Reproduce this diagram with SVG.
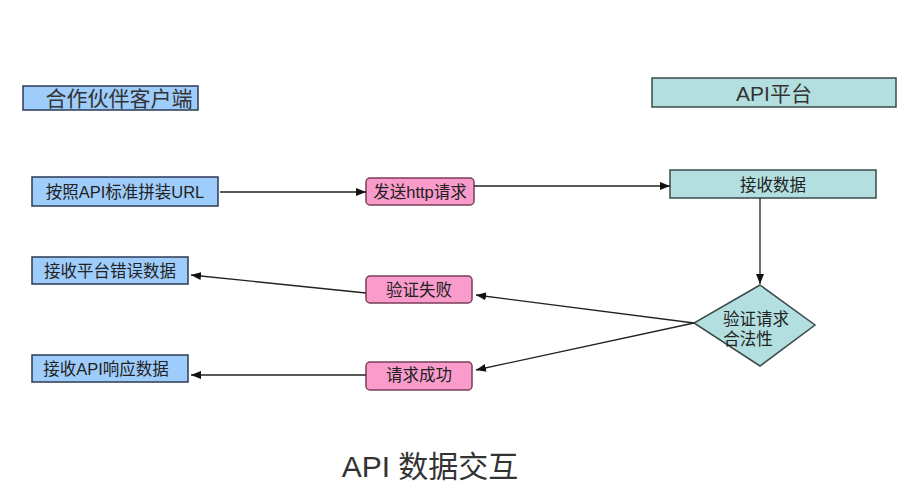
<svg xmlns="http://www.w3.org/2000/svg" width="915" height="501" viewBox="0 0 915 501">
<defs>
<marker id="ah" markerWidth="10" markerHeight="8" refX="10" refY="4" orient="auto" markerUnits="userSpaceOnUse">
<path d="M0,0 L10,4 L0,8 Z" fill="#111"/>
</marker>
<style>
text{font-family:"Liberation Sans","Noto Sans CJK SC",sans-serif;fill:#222;text-anchor:middle;dominant-baseline:central}
.blue{fill:#9fcdfb;stroke:#2c3a55;stroke-width:1.5}
.teal{fill:#b3dfe0;stroke:#3b4a4a;stroke-width:1.5}
.pink{fill:#f99ccc;stroke:#7a3d5a;stroke-width:1.5}
.t{font-size:16.5px}
.big{font-size:21px;fill:#333}
.conn{stroke:#222;stroke-width:1.3;fill:none;marker-end:url(#ah)}
</style>
</defs>
<rect width="915" height="501" fill="#fff"/>
<g id="partner-client"><rect class="blue" x="23" y="86" width="175" height="24"/><text class="big" x="119" y="98.5">合作伙伴客户端</text></g>
<g id="api-platform"><rect class="teal" x="652" y="78" width="244" height="29"/><text class="big" x="774" y="93">API平台</text></g>
<g id="build-url"><rect class="blue" x="32" y="177" width="186" height="29"/><text class="t" x="125" y="192">按照API标准拼装URL</text></g>
<g id="send-http"><rect class="pink" x="366" y="178" width="108" height="27" rx="4"/><text class="t" x="420" y="192">发送http请求</text></g>
<g id="receive-data"><rect class="teal" x="670" y="170" width="206" height="28"/><text class="t" x="773" y="184.5">接收数据</text></g>
<g id="validate"><polygon class="teal" points="760,285 815,325 760,366 694,323"/><text class="t" x="756" y="319">验证请求</text><text class="t" x="748" y="339">合法性</text></g>
<g id="receive-error"><rect class="blue" x="32" y="257" width="156" height="27"/><text class="t" x="110" y="271">接收平台错误数据</text></g>
<g id="fail"><rect class="pink" x="366" y="276" width="106" height="27" rx="4"/><text class="t" x="419" y="290">验证失败</text></g>
<g id="receive-api"><rect class="blue" x="32" y="355" width="156" height="27"/><text class="t" x="106" y="369">接收API响应数据</text></g>
<g id="success"><rect class="pink" x="366" y="362" width="106" height="28" rx="4"/><text class="t" x="419" y="375">请求成功</text></g>
<g id="connectors">
<line class="conn" x1="220" y1="192" x2="366" y2="192"/>
<line class="conn" x1="474" y1="186" x2="670" y2="186"/>
<line class="conn" x1="760" y1="198" x2="760" y2="284"/>
<line class="conn" x1="694" y1="323" x2="476" y2="295"/>
<line class="conn" x1="694" y1="323" x2="476" y2="370"/>
<line class="conn" x1="366" y1="293" x2="191" y2="275"/>
<line class="conn" x1="366" y1="375" x2="191" y2="375"/>
</g>
<text x="430" y="466" style="font-size:30px;fill:#333">API 数据交互</text>
</svg>
